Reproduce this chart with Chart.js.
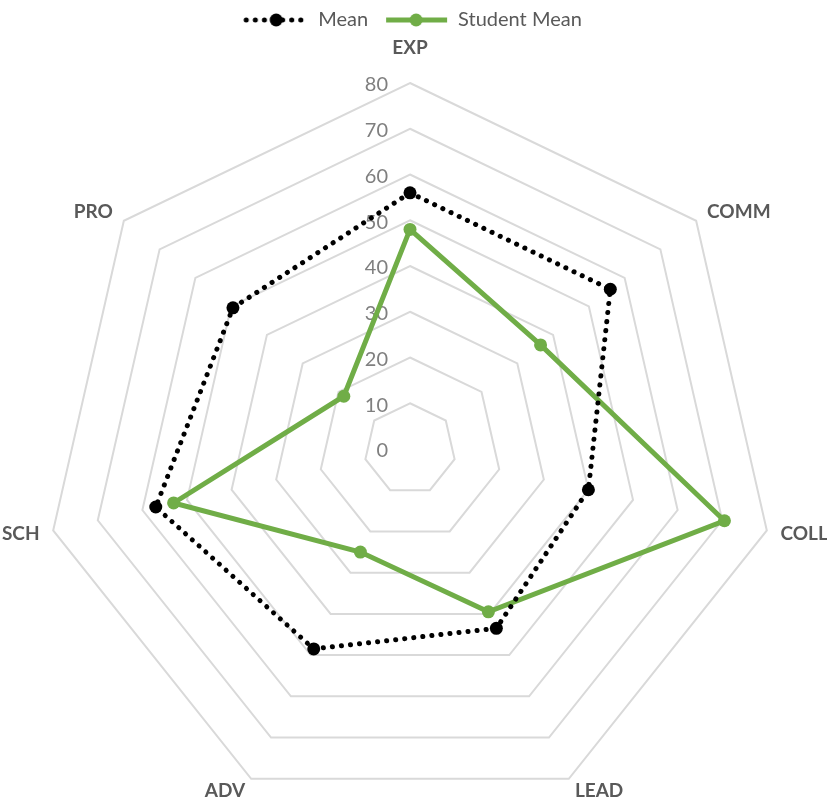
<!DOCTYPE html>
<html>
<head>
<meta charset="utf-8">
<script src="https://cdn.jsdelivr.net/npm/chart.js@4/dist/chart.umd.min.js"></script>
<style>
  html, body { margin: 0; padding: 0; background: #fff; overflow: hidden; }
  /* canvas runs a little past the bottom edge so the rings get the full radius */
  #wrap { width: 827px; height: 858px; }
</style>
</head>
<body>
<div id="wrap"><canvas id="radarCanvas"></canvas></div>
<script>
// Axis categories, clockwise from the top
const axisLabels = ['EXP', 'COMM', 'COLL', 'LEAD', 'ADV', 'SCH', 'PRO'];

// Series values
const meanValues = [56, 56, 40, 43.5, 48.5, 57, 49.5];
const studentMeanValues = [48, 36.5, 70.5, 39.5, 25, 53, 18.5];

// Radial tick values
const tickValues = [0, 10, 20, 30, 40, 50, 60, 70, 80];

const GREEN = '#70AD47';

// Small legend swatch: line with a marker in the middle
function makeSwatch(color, dotted) {
  const c = document.createElement('canvas');
  c.width = 70;
  c.height = 16;
  const g = c.getContext('2d');
  g.strokeStyle = color;
  g.lineWidth = 5;
  if (dotted) {
    g.lineCap = 'round';
    g.setLineDash([0.1, 9]);
  }
  g.beginPath();
  g.moveTo(8, 8);
  g.lineTo(69, 8);
  g.stroke();
  g.fillStyle = color;
  g.beginPath();
  g.arc(38, 8, 6.5, 0, Math.PI * 2);
  g.fill();
  return c;
}

const swatches = [makeSwatch('#000', true), makeSwatch(GREEN, false)];

// Tick numbers sit just left of the vertical axis, under the lines
const tickLabelPlugin = {
  id: 'tickLabels',
  beforeDatasetsDraw(chart) {
    const scale = chart.scales.r;
    const ctx = chart.ctx;
    ctx.save();
    ctx.font = '20px Lato';
    ctx.fillStyle = '#7f7f7f';
    ctx.textAlign = 'right';
    ctx.textBaseline = 'middle';
    scale.ticks.forEach(t => {
      const d = scale.getDistanceFromCenterForValue(t.value);
      ctx.fillText(String(t.value), scale.xCenter - 22, scale.yCenter - d + 2);
    });
    ctx.restore();
  }
};

// Category names just outside the outer ring
const pointLabelPlugin = {
  id: 'outerLabels',
  afterDatasetsDraw(chart) {
    const scale = chart.scales.r;
    const ctx = chart.ctx;
    ctx.save();
    ctx.font = 'bold 19px Lato';
    ctx.fillStyle = '#595959';
    ctx.textBaseline = 'middle';
    axisLabels.forEach((label, i) => {
      const isTop = i === 0;
      const p = scale.getPointPosition(i, scale.drawingArea + (isTop ? 35 : 14));
      ctx.textAlign = isTop ? 'center' : (p.x > scale.xCenter ? 'left' : 'right');
      ctx.fillText(label, p.x, p.y);
    });
    ctx.restore();
  }
};

const ctx = document.getElementById('radarCanvas').getContext('2d');

new Chart(ctx, {
  type: 'radar',
  data: {
    labels: axisLabels,
    datasets: [
      {
        label: 'Mean',
        data: meanValues,
        borderColor: '#000',
        backgroundColor: '#000',
        borderWidth: 5,
        borderDash: [0.1, 9],
        borderCapStyle: 'round',
        pointRadius: 6.5,
        pointBackgroundColor: '#000',
        pointBorderWidth: 0,
        fill: false
      },
      {
        label: 'Student Mean',
        data: studentMeanValues,
        borderColor: GREEN,
        backgroundColor: GREEN,
        borderWidth: 5,
        pointRadius: 6.5,
        pointBackgroundColor: GREEN,
        pointBorderWidth: 0,
        fill: false
      }
    ]
  },
  options: {
    responsive: true,
    maintainAspectRatio: false,
    animation: false,
    elements: { line: { tension: 0 } },
    layout: { padding: { left: 44, right: 51, top: 0, bottom: 0 } },
    scales: {
      r: {
        min: tickValues[0],
        max: tickValues[tickValues.length - 1],
        ticks: { stepSize: 10, display: false },
        grid: { color: '#d9d9d9', lineWidth: 2 },
        angleLines: { display: false },
        pointLabels: { display: false }
      }
    },
    plugins: {
      legend: {
        position: 'top',
        labels: {
          usePointStyle: true,
          pointStyleWidth: 70,
          padding: 10,
          color: '#595959',
          font: { family: 'Lato', size: 20 },
          generateLabels(chart) {
            const items = Chart.defaults.plugins.legend.labels.generateLabels(chart);
            items.forEach((it, i) => { it.pointStyle = swatches[i]; });
            return items;
          }
        }
      },
      tooltip: { enabled: false }
    }
  },
  plugins: [tickLabelPlugin, pointLabelPlugin]
});
</script>
</body>
</html>
